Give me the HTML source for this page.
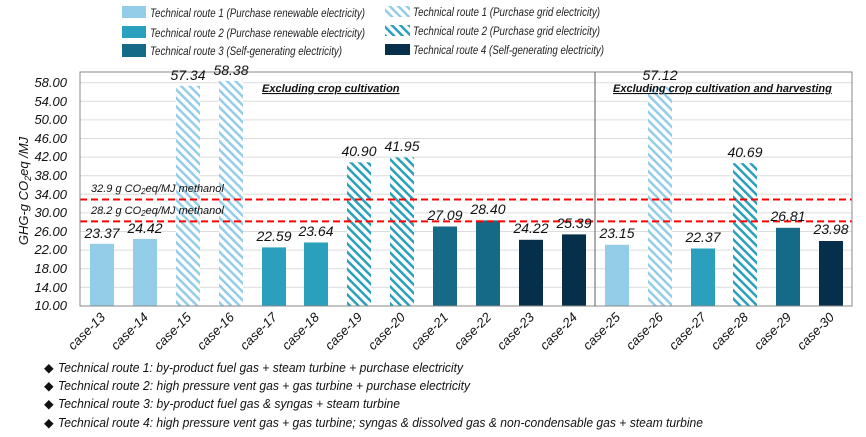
<!DOCTYPE html>
<html><head><meta charset="utf-8"><style>
html,body{margin:0;padding:0;background:#fff;}
svg{display:block;font-family:"Liberation Sans",sans-serif;font-style:italic;}
</style></head><body>
<svg width="866" height="437" viewBox="0 0 866 437" xmlns="http://www.w3.org/2000/svg">
<defs>
<pattern id="h1" width="6" height="6" patternUnits="userSpaceOnUse" patternTransform="rotate(-45)">
<rect width="6" height="6" fill="#fff"/><rect x="0" y="0" width="2.5" height="6" fill="#93CDE8"/></pattern>
<pattern id="h2" width="6" height="6" patternUnits="userSpaceOnUse" patternTransform="rotate(-45)">
<rect width="6" height="6" fill="#fff"/><rect x="0" y="0" width="2.5" height="6" fill="#2AA0BD"/></pattern>
</defs>
<!-- legend -->
<g font-size="12" fill="#222" lengthAdjust="spacingAndGlyphs">
<rect x="122" y="6" width="24" height="12" fill="#93CDE8"/>
<text x="150" y="17" textLength="215" lengthAdjust="spacingAndGlyphs">Technical route 1 (Purchase renewable electricity)</text>
<rect x="122" y="26" width="24" height="12" fill="#2AA0BD"/>
<text x="150" y="37" textLength="215" lengthAdjust="spacingAndGlyphs">Technical route 2 (Purchase renewable electricity)</text>
<rect x="122" y="44" width="24" height="13" fill="#156A87"/>
<text x="150" y="55" textLength="192" lengthAdjust="spacingAndGlyphs">Technical route 3 (Self-generating electricity)</text>
<rect x="385" y="6" width="25" height="11" fill="url(#h1)"/>
<text x="413" y="16" textLength="187" lengthAdjust="spacingAndGlyphs">Technical route 1 (Purchase grid electricity)</text>
<rect x="385" y="25" width="25" height="11" fill="url(#h2)"/>
<text x="413" y="35" textLength="187" lengthAdjust="spacingAndGlyphs">Technical route 2 (Purchase grid electricity)</text>
<rect x="385" y="44" width="25" height="11" fill="#052F4A"/>
<text x="413" y="54" textLength="191" lengthAdjust="spacingAndGlyphs">Technical route 4 (Self-generating electricity)</text>
</g>
<!-- grid -->
<g stroke="#dcdcdc" stroke-width="1">
<line x1="80" x2="852" y1="82.7" y2="82.7"/><line x1="80" x2="852" y1="101.3" y2="101.3"/>
<line x1="80" x2="852" y1="119.9" y2="119.9"/><line x1="80" x2="852" y1="138.5" y2="138.5"/>
<line x1="80" x2="852" y1="157.1" y2="157.1"/><line x1="80" x2="852" y1="175.7" y2="175.7"/>
<line x1="80" x2="852" y1="194.3" y2="194.3"/><line x1="80" x2="852" y1="212.9" y2="212.9"/>
<line x1="80" x2="852" y1="231.5" y2="231.5"/><line x1="80" x2="852" y1="250.1" y2="250.1"/>
<line x1="80" x2="852" y1="268.7" y2="268.7"/><line x1="80" x2="852" y1="287.3" y2="287.3"/>
</g>
<g font-size="13" fill="#111" text-anchor="end">
<text x="67" y="87">58.00</text><text x="67" y="106">54.00</text><text x="67" y="124">50.00</text>
<text x="67" y="143">46.00</text><text x="67" y="161">42.00</text><text x="67" y="180">38.00</text>
<text x="67" y="199">34.00</text><text x="67" y="217">30.00</text><text x="67" y="236">26.00</text>
<text x="67" y="254">22.00</text><text x="67" y="273">18.00</text><text x="67" y="292">14.00</text>
<text x="67" y="310">10.00</text>
</g>
<text transform="translate(28,191) rotate(-90)" font-size="13" text-anchor="middle" fill="#111">GHG-g CO<tspan font-size="9" dy="3">2</tspan><tspan dy="-3">eq /MJ</tspan></text>
<!-- bars -->
<g>
<rect x="90" y="243.8" width="24" height="62.2" fill="#93CDE8"/>
<rect x="133" y="238.9" width="24" height="67.1" fill="#93CDE8"/>
<rect x="176" y="85.8" width="24" height="220.2" fill="url(#h1)"/>
<rect x="219" y="80.9" width="24" height="225.1" fill="url(#h1)"/>
<rect x="262" y="247.4" width="24" height="58.6" fill="#2AA0BD"/>
<rect x="304" y="242.5" width="24" height="63.5" fill="#2AA0BD"/>
<rect x="347" y="162.3" width="24" height="143.7" fill="url(#h2)"/>
<rect x="390" y="157.4" width="24" height="148.6" fill="url(#h2)"/>
<rect x="433" y="226.5" width="24" height="79.5" fill="#156A87"/>
<rect x="476" y="220.4" width="24" height="85.6" fill="#156A87"/>
<rect x="519" y="239.8" width="24" height="66.2" fill="#052F4A"/>
<rect x="562" y="234.4" width="24" height="71.6" fill="#052F4A"/>
<rect x="605" y="244.8" width="24" height="61.2" fill="#93CDE8"/>
<rect x="648" y="86.8" width="24" height="219.2" fill="url(#h1)"/>
<rect x="691" y="248.5" width="24" height="57.5" fill="#2AA0BD"/>
<rect x="733" y="163.2" width="24" height="142.8" fill="url(#h2)"/>
<rect x="776" y="227.8" width="24" height="78.2" fill="#156A87"/>
<rect x="819" y="241" width="24" height="65" fill="#052F4A"/>
</g>
<!-- reference lines -->
<line x1="80" x2="852" y1="199.5" y2="199.5" stroke="#FF0000" stroke-width="2" stroke-dasharray="7,4"/>
<line x1="80" x2="852" y1="221.4" y2="221.4" stroke="#FF0000" stroke-width="2" stroke-dasharray="7,4"/>
<g font-size="11" fill="#111">
<text x="91" y="192">32.9 g CO<tspan font-size="8" dy="2">2</tspan><tspan dy="-2">eq/MJ methanol</tspan></text>
<text x="91" y="214">28.2 g CO<tspan font-size="8" dy="2">2</tspan><tspan dy="-2">eq/MJ methanol</tspan></text>
</g>
<!-- axes frame -->
<rect x="80" y="72" width="772" height="234" fill="none" stroke="#888" stroke-width="1"/>
<line x1="595" x2="595" y1="72" y2="306" stroke="#777" stroke-width="1.2"/>
<g font-size="11" font-weight="bold" fill="#111" text-decoration="underline">
<text x="262" y="92">Excluding crop cultivation</text>
<text x="613" y="92">Excluding crop cultivation and harvesting</text>
</g>
<!-- value labels -->
<g font-size="14" fill="#111" text-anchor="middle">
<text x="102" y="238">23.37</text><text x="145" y="233">24.42</text>
<text x="188" y="80">57.34</text><text x="231" y="75">58.38</text>
<text x="274" y="241">22.59</text><text x="316" y="236">23.64</text>
<text x="359" y="156">40.90</text><text x="402" y="151">41.95</text>
<text x="445" y="220">27.09</text><text x="488" y="214">28.40</text>
<text x="531" y="233">24.22</text><text x="574" y="228">25.39</text>
<text x="617" y="238">23.15</text><text x="660" y="80">57.12</text>
<text x="703" y="242">22.37</text><text x="745" y="157">40.69</text>
<text x="788" y="221">26.81</text><text x="831" y="234">23.98</text>
</g>
<!-- x labels -->
<g font-size="13" fill="#111" text-anchor="end">
<text transform="translate(106,318) rotate(-45)">case-13</text>
<text transform="translate(149,318) rotate(-45)">case-14</text>
<text transform="translate(192,318) rotate(-45)">case-15</text>
<text transform="translate(235,318) rotate(-45)">case-16</text>
<text transform="translate(278,318) rotate(-45)">case-17</text>
<text transform="translate(320,318) rotate(-45)">case-18</text>
<text transform="translate(363,318) rotate(-45)">case-19</text>
<text transform="translate(406,318) rotate(-45)">case-20</text>
<text transform="translate(449,318) rotate(-45)">case-21</text>
<text transform="translate(492,318) rotate(-45)">case-22</text>
<text transform="translate(535,318) rotate(-45)">case-23</text>
<text transform="translate(578,318) rotate(-45)">case-24</text>
<text transform="translate(621,318) rotate(-45)">case-25</text>
<text transform="translate(664,318) rotate(-45)">case-26</text>
<text transform="translate(707,318) rotate(-45)">case-27</text>
<text transform="translate(749,318) rotate(-45)">case-28</text>
<text transform="translate(792,318) rotate(-45)">case-29</text>
<text transform="translate(835,318) rotate(-45)">case-30</text>
</g>
<!-- notes -->
<g font-size="12.5" fill="#111">
<text x="44" y="372" font-style="normal">◆</text><text x="58" y="372" textLength="405" lengthAdjust="spacingAndGlyphs">Technical route 1: by-product fuel gas + steam turbine + purchase electricity</text>
<text x="44" y="390" font-style="normal">◆</text><text x="58" y="390" textLength="412" lengthAdjust="spacingAndGlyphs">Technical route 2: high pressure vent gas + gas turbine + purchase electricity</text>
<text x="44" y="408" font-style="normal">◆</text><text x="58" y="408" textLength="342" lengthAdjust="spacingAndGlyphs">Technical route 3: by-product fuel gas &amp; syngas + steam turbine</text>
<text x="44" y="427" font-style="normal">◆</text><text x="58" y="427" textLength="645" lengthAdjust="spacingAndGlyphs">Technical route 4: high pressure vent gas + gas turbine; syngas &amp; dissolved gas &amp; non-condensable gas + steam turbine</text>
</g>
</svg>
</body></html>
